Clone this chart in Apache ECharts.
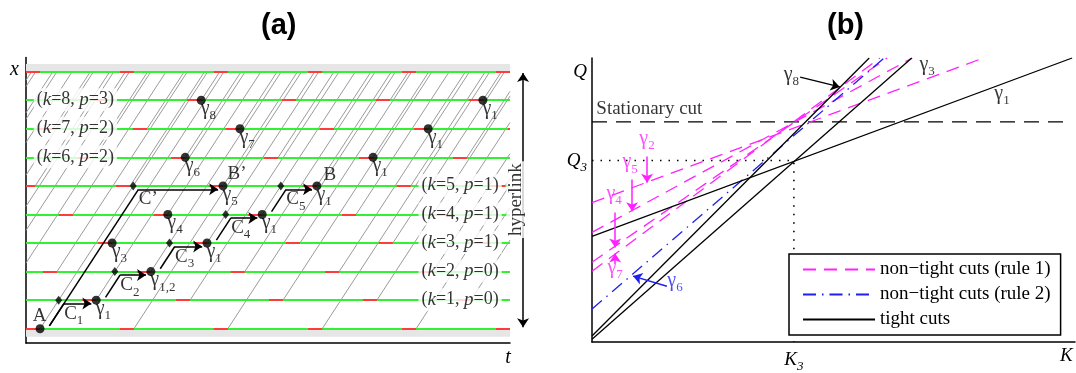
<!DOCTYPE html>
<html>
<head>
<meta charset="utf-8">
<script src="https://cdn.jsdelivr.net/npm/echarts@6.0.0/dist/echarts.min.js"></script>
<style>
html,body{margin:0;padding:0;background:#fff;}
#chart{width:1076px;height:373px;}
</style>
</head>
<body>
<div id="chart"></div>
<script>
// ================= Panel (a) data (t axis 0..100, level axis 0..9) =================
// departure times of the hyperlink (end of each red waiting interval), per level
const dep0 = [-16.5, 2.9, 22.3, 41.7, 61.2, 80.6, 100];
const dep1 = [-24.4, -5.0, 14.5, 33.9, 53.1, 72.5, 91.9];
const dep2 = [-13.0, 6.4, 25.8, 45.2, 64.7, 84.1];
const dep3 = [-21.1, -1.7, 17.8, 37.4, 56.6, 75.8, 95.2];
const dep4 = [-9.7, 9.7, 29.3, 48.8, 68.2, 87.6];
const dep5 = [1.9, 21.5, 40.7, 60.1, 79.5, 99.0];
const dep6 = [-6.0, 13.6, 32.9, 52.1, 71.7, 91.1];
const dep7 = [-13.8, 5.6, 25.0, 44.2, 63.6, 83.1, 102.5];
const dep8 = [-2.7, 16.7, 36.2, 55.8, 75.2, 94.4];
const depTop = [2.9, 22.3, 41.7, 61.2, 80.6, 100];
const redLen = 2.9;        // waiting interval length
const tPerLevel = 3.85;    // transit time per level
const bandRanges = [[9, 9.27], [-0.28, 0]];
// highlighted path: departures [level, t]
const pathDeps = [[0, 2.9], [1, 14.5], [2, 25.8], [3, 37.4], [4, 48.8], [5, 60.1]];
const pathSubs = ['', '1', '1,2', '1', '1', '1'];
const longPathEnd = [5, 40.7];   // B'
const otherDots = [[3, 17.8], [4, 29.3], [6, 32.9], [7, 44.2], [8, 36.2], [6, 71.7], [7, 83.1], [8, 94.4]];
const otherSubs = ['3', '4', '6', '7', '8', '1', '1', '1'];
const leftRows = [[8, 3], [7, 2], [6, 2]];          // (k, p) at level k
const rightRows = [[5, 1], [4, 1], [3, 1], [2, 0], [1, 0]];

// ================= Panel (b) data (K axis 0..100, Q axis 0..100) =================
const K3 = 41.8, Q3 = 63.9, Qstat = 77.5;
const tightG1 = [[0, 37.2], [99.4, 100]];
const tightG3 = [[0, 1.0], [66.2, 100]];
const tightG8 = [[0, 2.1], [57.4, 100]];
const rule2G6 = [[0, 11.6], [60.5, 100]];
const rule1G2 = [[0, 49.1], [81.0, 100]];
const rule1G5 = [[0, 38.6], [66.3, 100]];
const rule1G4 = [[0, 28.1], [61.1, 100]];
const rule1G7 = [[0, 24.9], [59.6, 100]];
const stationaryCut = [[0, Qstat], [98.5, Qstat]];

const R1 = 'non\u2212tight cuts (rule 1)';
const R2 = 'non\u2212tight cuts (rule 2)';
const TC = 'tight cuts';

// ================= build =================
const SERIF = 'Liberation Serif';
const RICH = {
  g: {fontFamily: SERIF, fontSize: 20},
  s: {fontFamily: SERIF, fontSize: 13, padding: [14, 0, 0, 0]},
  i: {fontFamily: SERIF, fontSize: 19, fontStyle: 'italic'},
  n: {fontFamily: SERIF, fontSize: 19}
};
const MAG = '#ff22ff', BLUE = '#1f1fef';
const gam = s => s ? '{g|\u03b3}{s|' + s + '}' : '{g|\u03b3}';

function lbl(x, y, text, dx, dy, align, extra) {
  return {value: [x, y], label: Object.assign({
    show: true, formatter: text, position: [dx, dy], align: align || 'left', verticalAlign: 'middle',
    rich: RICH, color: '#000', fontFamily: SERIF, fontSize: 19
  }, extra || {})};
}

const deps = [dep0, dep1, dep2, dep3, dep4, dep5, dep6, dep7, dep8];
const grayData = [];
deps.forEach((arr, lvl) => arr.forEach(t0 => {
  let la = lvl, ta = t0;
  if (ta < 0) { la = lvl - ta / tPerLevel; ta = 0; }
  let lb = 9, tb = t0 + (9 - lvl) * tPerLevel;
  if (tb > 100) { lb = lvl + (100 - t0) / tPerLevel; tb = 100; }
  if (la < lb && ta < 100) grayData.push({coords: [[ta, la], [tb, lb]]});
}));
const greenData = [0,1,2,3,4,5,6,7,8,9].map(l => ({coords: [[0, l], [100, l]]}));
const redData = [];
deps.concat([depTop]).forEach((arr, lvl) => arr.forEach(t0 => {
  const a = Math.max(0, t0 - redLen), b = Math.min(100, t0);
  if (b > a) redData.push({coords: [[a, lvl], [b, lvl]]});
}));

const offT = 1.55;
const blackSegs = [], arrowSegs = [], diamonds = [];
function bracket(l0, t0, l1, tNext) {
  const tArr = t0 + (l1 - l0) * tPerLevel;
  const a = [t0 + offT + 0.1 * tPerLevel, l0 + 0.1];
  const b = [t0 + offT + (l1 - l0 - 0.12) * tPerLevel, l1 - 0.12];
  blackSegs.push({coords: [a, b]});
  arrowSegs.push({coords: [b, [tNext - 1.0, l1 - 0.12]]});
  diamonds.push([tArr, l1]);
}
bracket(0, pathDeps[0][1], longPathEnd[0], longPathEnd[1]);
for (let i = 0; i < pathDeps.length - 1; i++) bracket(pathDeps[i][0], pathDeps[i][1], pathDeps[i + 1][0], pathDeps[i + 1][1]);

const dots = pathDeps.map(p => [p[1], p[0]]).concat([[longPathEnd[1], longPathEnd[0]]]).concat(otherDots.map(p => [p[1], p[0]]));

const labelsA = [];
labelsA.push(lbl(pathDeps[0][1], pathDeps[0][0], 'A', 0, -12, 'center'));
for (let i = 1; i < pathDeps.length; i++) labelsA.push(lbl(pathDeps[i][1], pathDeps[i][0], gam(pathSubs[i]), 0, 9));
labelsA.push(lbl(pathDeps[5][1], pathDeps[5][0], 'B', 7, -10));
labelsA.push(lbl(longPathEnd[1], longPathEnd[0], 'B\u2019', 5, -11));
labelsA.push(lbl(longPathEnd[1], longPathEnd[0], gam('5'), 0, 9));
labelsA.push(lbl(diamonds[0][0], diamonds[0][1], 'C\u2019', 6, 14));
for (let i = 1; i < diamonds.length; i++) labelsA.push(lbl(diamonds[i][0], diamonds[i][1], 'C{s|' + i + '}', 6, 14));
otherDots.forEach((p, i) => labelsA.push(lbl(p[1], p[0], gam(otherSubs[i]), 0, 9)));
const rowText = (k, p) => '({i|k}=' + k + ', {i|p}=' + p + ')';
leftRows.forEach(r => labelsA.push(lbl(10.3, r[0], rowText(r[0], r[1]), 0, 0, 'center', {backgroundColor: '#fff', padding: [2, 3, 2, 3], fontSize: 18})));
rightRows.forEach(r => labelsA.push(lbl(89.8, r[0], rowText(r[0], r[1]), 0, 0, 'center', {backgroundColor: '#fff', padding: [2, 3, 2, 3], fontSize: 18})));
labelsA.push(lbl(101.3, 4.5, 'hyperlink', 0, 0, 'center', {rotate: 90, backgroundColor: '#fff', padding: [0, 2, 0, 2]}));

const labelsB = [
  lbl(39.8, 93.0, gam('8'), 0, -3),
  lbl(67.9, 96.5, gam('3'), 0, -3),
  lbl(83.4, 86.3, gam('1'), 0, -3),
  lbl(9.9, 70.5, gam('2'), 0, -3, 'left', {color: MAG}),
  lbl(6.4, 62.1, gam('5'), 0, -3, 'left', {color: MAG}),
  lbl(3.1, 50.9, gam('4'), 0, -3, 'left', {color: MAG}),
  lbl(3.3, 24.9, gam('7'), 0, -3, 'left', {color: MAG}),
  lbl(15.7, 20.4, gam('6'), 0, -3, 'left', {color: BLUE}),
  lbl(1.0, 81.8, 'Stationary cut', 0, 0)
];
const arrowsMag = [
  [[11.4, 65.3], [11.4, 56.1]],
  [[8.3, 57.2], [8.3, 46.0]],
  [[4.8, 45.6], [4.8, 33.3]],
  [[4.8, 27.7], [4.8, 31.2]]
];
const arrowBlue = [[[15.5, 19.6], [8.5, 23.2]]];
const arrowBlack = [[[43.1, 93.3], [51.3, 89.8]]];

const series = [];
const A = {xAxisIndex: 0, yAxisIndex: 0};
const B = {xAxisIndex: 1, yAxisIndex: 1};
series.push(Object.assign({type: 'line', name: 'bands', data: [[0, 9]], symbol: 'none', showSymbol: false,
  lineStyle: {opacity: 0}, silent: true, z: 1,
  markArea: {silent: true, itemStyle: {color: '#e6e6e6'}, data: bandRanges.map(b => [{coord: [0, b[0]]}, {coord: [100, b[1]]}])}}, A));
series.push(Object.assign({type: 'lines', name: 'hyperlink trips', coordinateSystem: 'cartesian2d', data: grayData,
  lineStyle: {color: '#9b9b9b', width: 1, opacity: 1}, silent: true, z: 2}, A));
series.push(Object.assign({type: 'lines', name: 'levels', coordinateSystem: 'cartesian2d', data: greenData,
  lineStyle: {color: '#33f033', width: 2, opacity: 1}, silent: true, z: 3}, A));
series.push(Object.assign({type: 'lines', name: 'waiting', coordinateSystem: 'cartesian2d', data: redData,
  lineStyle: {color: '#ff3c3c', width: 2, opacity: 1}, silent: true, z: 4}, A));
series.push(Object.assign({type: 'lines', name: 'path', coordinateSystem: 'cartesian2d', data: blackSegs,
  lineStyle: {color: '#000', width: 1.5, opacity: 1}, silent: true, z: 5}, A));
series.push(Object.assign({type: 'lines', name: 'path arrows', coordinateSystem: 'cartesian2d', data: arrowSegs,
  symbol: ['none', 'arrow'], symbolSize: 9,
  lineStyle: {color: '#000', width: 1.5, opacity: 1}, silent: true, z: 5}, A));
series.push(Object.assign({type: 'lines', name: 'hyperlink axis', coordinateSystem: 'cartesian2d', clip: false,
  data: [{coords: [[102.7, 0.05], [102.7, 8.95]]}], symbol: ['arrow', 'arrow'], symbolSize: 9,
  lineStyle: {color: '#000', width: 1.5, opacity: 1}, silent: true, z: 5}, A));
series.push(Object.assign({type: 'scatter', name: 'diamonds', data: diamonds, symbol: 'diamond', symbolSize: [7, 9],
  itemStyle: {color: '#000'}, silent: true, z: 6}, A));
series.push(Object.assign({type: 'scatter', name: 'dots', data: dots, symbol: 'circle', symbolSize: 9,
  itemStyle: {color: '#000'}, silent: true, z: 6}, A));
series.push(Object.assign({type: 'scatter', name: 'labels a', data: labelsA, symbolSize: 1, clip: false,
  itemStyle: {color: 'rgba(0,0,0,0)'}, silent: true, z: 10}, A));

// panel b
const lineS = (name, data, style, z) => Object.assign({type: 'line', name, data, symbol: 'none', showSymbol: false,
  lineStyle: style, silent: true, z: z || 3, animation: false}, B);
series.push(lineS('stationary', stationaryCut, {color: '#000', width: 1.3, type: [15, 9]}, 2));
series.push(lineS('Q3', [[0, Q3], [K3, Q3], [K3, 0]], {color: '#000', width: 1.6, type: [1.5, 7]}, 2));
[rule1G2, rule1G5, rule1G4, rule1G7].forEach(d => series.push(lineS(R1, d, {color: MAG, width: 1.3, type: [13, 8]}, 3)));
series.push(lineS(R2, rule2G6, {color: BLUE, width: 1.3, type: [13, 6, 1.5, 6]}, 3));
[tightG1, tightG3, tightG8].forEach(d => series.push(lineS(TC, d, {color: '#000', width: 1.3}, 4)));
series.push(Object.assign({type: 'lines', name: 'mag arrows', coordinateSystem: 'cartesian2d', data: arrowsMag.map(c => ({coords: c})),
  symbol: ['none', 'arrow'], symbolSize: 9, lineStyle: {color: MAG, width: 1.5, opacity: 1}, silent: true, z: 5}, B));
series.push(Object.assign({type: 'lines', name: 'blue arrow', coordinateSystem: 'cartesian2d', data: arrowBlue.map(c => ({coords: c})),
  symbol: ['none', 'arrow'], symbolSize: 9, lineStyle: {color: BLUE, width: 1.5, opacity: 1}, silent: true, z: 5}, B));
series.push(Object.assign({type: 'lines', name: 'black arrow', coordinateSystem: 'cartesian2d', data: arrowBlack.map(c => ({coords: c})),
  symbol: ['none', 'arrow'], symbolSize: 9, lineStyle: {color: '#000', width: 1.3, opacity: 1}, silent: true, z: 5}, B));
series.push(Object.assign({type: 'scatter', name: 'labels b', data: labelsB, symbolSize: 1, clip: false,
  itemStyle: {color: 'rgba(0,0,0,0)'}, silent: true, z: 10}, B));

const axisLineStyle = {show: true, onZero: false, lineStyle: {color: '#000', width: 1.5}};
const italicLbl = (vals, fmt, margin) => ({show: true, customValues: vals, formatter: fmt, margin: margin,
  color: '#000', fontFamily: SERIF, fontSize: 20, fontStyle: 'italic', rich: RICH});

const option = {
  animation: false,
  backgroundColor: '#fff',
  title: [
    {text: '(a)', left: 256, top: 6, textStyle: {fontFamily: 'Liberation Sans', fontWeight: 'bold', fontSize: 29, color: '#000'}},
    {text: '(b)', left: 822, top: 6, textStyle: {fontFamily: 'Liberation Sans', fontWeight: 'bold', fontSize: 29, color: '#000'}}
  ],
  legend: {
    data: [R1, R2, TC], left: 789, top: 254, orient: 'vertical', selectedMode: false,
    backgroundColor: '#fff', borderColor: '#000', borderWidth: 1.5, borderRadius: 0,
    padding: [6, 10, 6, 13], itemGap: 6, itemWidth: 72, itemHeight: 14,
    itemStyle: {opacity: 0, borderWidth: 0},
    lineStyle: {opacity: 1},
    textStyle: {fontFamily: SERIF, fontSize: 19, color: '#000'}
  },
  grid: [
    {left: 26, top: 57.4, width: 484, height: 285.6},
    {left: 592, top: 58, width: 483, height: 285}
  ],
  xAxis: [
    {gridIndex: 0, type: 'value', min: 0, max: 100, axisLine: axisLineStyle, axisTick: {show: false}, splitLine: {show: false},
      axisLabel: italicLbl([99.6], () => 't', 5)},
    {gridIndex: 1, type: 'value', min: 0, max: 100, axisLine: axisLineStyle, axisTick: {show: false}, splitLine: {show: false},
      axisLabel: italicLbl([K3, 98.2], v => v < 50 ? '{i|K}{s|3}' : '{i|K}', 4)}
  ],
  yAxis: [
    {gridIndex: 0, type: 'value', min: -0.5, max: 9.5, axisLine: axisLineStyle, axisTick: {show: false}, splitLine: {show: false},
      axisLabel: italicLbl([9.06], () => 'x', 7)},
    {gridIndex: 1, type: 'value', min: 0, max: 100, axisLine: axisLineStyle, axisTick: {show: false}, splitLine: {show: false},
      axisLabel: italicLbl([Q3, 95.1], v => v < 80 ? '{i|Q}{s|3}' : '{i|Q}', 5)}
  ],
  series: series
};
const chart = echarts.init(document.getElementById('chart'));
chart.setOption(option);
</script>
</body>
</html>
